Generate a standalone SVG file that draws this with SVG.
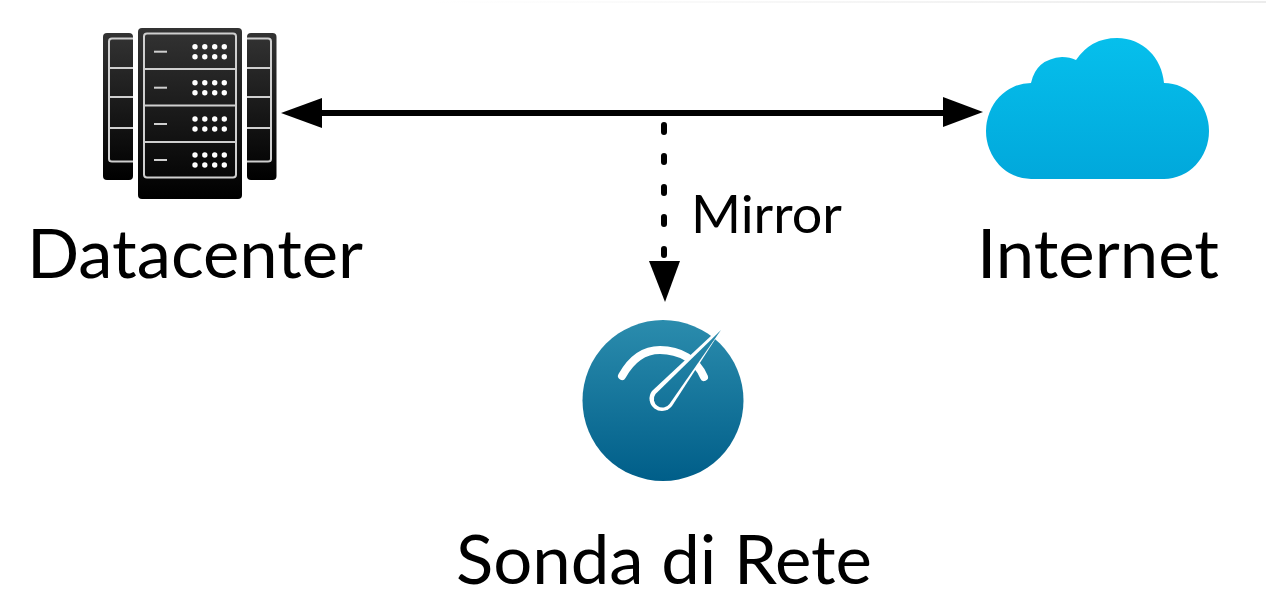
<svg xmlns="http://www.w3.org/2000/svg" width="1266" height="597" viewBox="0 0 1266 597">
<style>
.label{font-family:"Lato","Liberation Sans",sans-serif;fill:#000}
.big{font-size:68px}
.sm{font-size:53px}
.rack{stroke:#cfcfcf;stroke-width:2;fill:none}
.dot{fill:#fff}
</style>
<defs>
<linearGradient id="g-rack" x1="0" y1="0" x2="0" y2="1"><stop offset="0" stop-color="#333"/><stop offset="1" stop-color="#000"/></linearGradient>
<linearGradient id="g-cloud" x1="0" y1="0" x2="0" y2="1"><stop offset="0" stop-color="#06bfec"/><stop offset="1" stop-color="#01a8db"/></linearGradient>
<linearGradient id="g-gauge" gradientUnits="userSpaceOnUse" x1="0" y1="320" x2="0" y2="481"><stop offset="0" stop-color="#2b8cad"/><stop offset="1" stop-color="#005e89"/></linearGradient>
<linearGradient id="g-top" x1="0" y1="0" x2="1" y2="0"><stop offset="0" stop-color="#fff"/><stop offset="1" stop-color="#ececec"/></linearGradient>
<g id="dots"><g class="dot"><circle cx="195" cy="0" r="2.700"/><circle cx="204.800" cy="0" r="2.700"/><circle cx="214.700" cy="0" r="2.700"/><circle cx="224.300" cy="0" r="2.700"/><circle cx="195" cy="10" r="2.700"/><circle cx="204.800" cy="10" r="2.700"/><circle cx="214.700" cy="10" r="2.700"/><circle cx="224.300" cy="10" r="2.700"/></g><rect x="154" y="4" width="13" height="2" fill="#cfcfcf"/></g>
</defs>
<rect width="1266" height="597" fill="#fff"/>
<rect x="430" y="1" width="836" height="2" fill="url(#g-top)"/>
<g id="connectors">
<path d="M310 113H955" stroke="#000" stroke-width="6" fill="none"/>
<path d="M281 113L322 98V128Z" fill="#000"/>
<path d="M983 112L943 97V127Z" fill="#000"/>
<path d="M664 125V132M664 156V162M664 187V193M664 217V224M664 249V255" stroke="#000" stroke-width="6" stroke-linecap="round" fill="none"/>
<path d="M649 261H680L665 302Z" fill="#000"/>
</g>
<g id="datacenter">
<rect x="103" y="33" width="30" height="147" rx="4" fill="url(#g-rack)"/>
<rect x="247" y="33" width="29.500" height="147" rx="4" fill="url(#g-rack)"/>
<path class="rack" d="M133 38.500H112Q109 38.500 109 41.500V159Q109 161.500 112 161.500H133M109 68H133M109 97H133M109 128H133"/>
<path class="rack" d="M247 38.500H268Q271 38.500 271 41.500V159Q271 161.500 268 161.500H247M247 68H271M247 97H271M247 128H271"/>
<rect x="138" y="28" width="104" height="171" rx="4" fill="url(#g-rack)"/>
<rect class="rack" x="144" y="33.500" width="92" height="144" rx="3"/>
<path class="rack" d="M144 69H236M144 105.500H236M144 142H236"/>
<use href="#dots" y="46.700"/><use href="#dots" y="82.700"/><use href="#dots" y="119"/><use href="#dots" y="155"/>
<text class="label big" x="27" y="278" textLength="336" lengthAdjust="spacingAndGlyphs">Datacenter</text>
</g>
<g id="internet">
<path d="M1031 179A45 48 0 0 1 1031 83Q1036 59 1062 57Q1070 57 1076 60Q1091 38 1117 38C1143 38 1162 58 1164 83A45 48 0 0 1 1164 179Z" fill="url(#g-cloud)"/>
<text class="label big" x="977" y="278" textLength="242" lengthAdjust="spacingAndGlyphs">Internet</text>
</g>
<g id="sonda">
<circle cx="663" cy="400.500" r="80.500" fill="url(#g-gauge)"/>
<path d="M622 376C632 358 645 350 660 350C680 350 697 360 704 377" stroke="#fff" stroke-width="8" stroke-linecap="round" fill="none"/>
<path d="M727 321L652 391A12.500 12.500 0 0 0 672 406Z" fill="#fff"/>
<path d="M721 330L655.500 394A8.600 8.600 0 0 0 669.500 404Z" fill="url(#g-gauge)"/>
<text class="label big" x="456" y="584" textLength="416" lengthAdjust="spacingAndGlyphs">Sonda di Rete</text>
</g>
<text class="label sm" x="691" y="233" textLength="151" lengthAdjust="spacingAndGlyphs">Mirror</text>
</svg>
